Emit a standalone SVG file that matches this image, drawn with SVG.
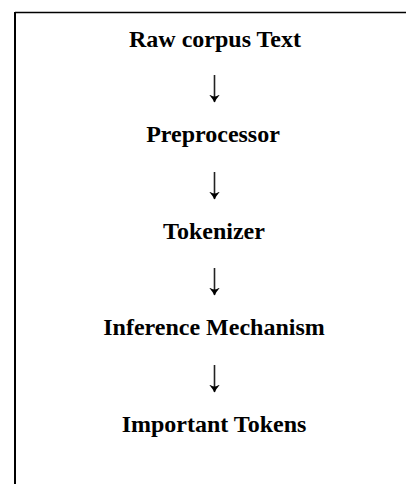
<svg xmlns="http://www.w3.org/2000/svg" width="406" height="484" viewBox="0 0 406 484">
<style>
.lbl{font-family:"Liberation Serif","Times New Roman",serif;font-weight:bold;font-size:24px;fill:#000;text-anchor:middle}
.conn{stroke:#222;stroke-width:1.6;fill:none}
.frame{stroke:#000;fill:none}
</style>
<defs>
<marker id="ah" markerWidth="8" markerHeight="11" refX="7.5" refY="5.5" orient="auto" markerUnits="userSpaceOnUse" viewBox="0 0 8 11">
<path d="M0,0 Q4,3.5 8,5.5 Q4,7.5 0,11 Q2,7 2,5.5 Q2,4 0,0 Z" fill="#000"/>
</marker>
</defs>
<rect width="406" height="484" fill="#fff"/>
<g id="frame">
<line class="frame" x1="15" y1="12.5" x2="406" y2="12.5" stroke-width="1.6"/>
<line class="frame" x1="15" y1="12" x2="15" y2="484" stroke-width="2"/>
</g>
<g id="connectors">
<line class="conn" x1="214.5" y1="75" x2="214.5" y2="102" marker-end="url(#ah)"/>
<line class="conn" x1="214.5" y1="172" x2="214.5" y2="199" marker-end="url(#ah)"/>
<line class="conn" x1="214.5" y1="268" x2="214.5" y2="295" marker-end="url(#ah)"/>
<line class="conn" x1="214.5" y1="365" x2="214.5" y2="392" marker-end="url(#ah)"/>
</g>
<g id="raw-corpus-text"><text class="lbl" x="215" y="47">Raw corpus Text</text></g>
<g id="preprocessor"><text class="lbl" x="213" y="142">Preprocessor</text></g>
<g id="tokenizer"><text class="lbl" x="214" y="239">Tokenizer</text></g>
<g id="inference-mechanism"><text class="lbl" x="214" y="335">Inference Mechanism</text></g>
<g id="important-tokens"><text class="lbl" x="214" y="432">Important Tokens</text></g>
</svg>
